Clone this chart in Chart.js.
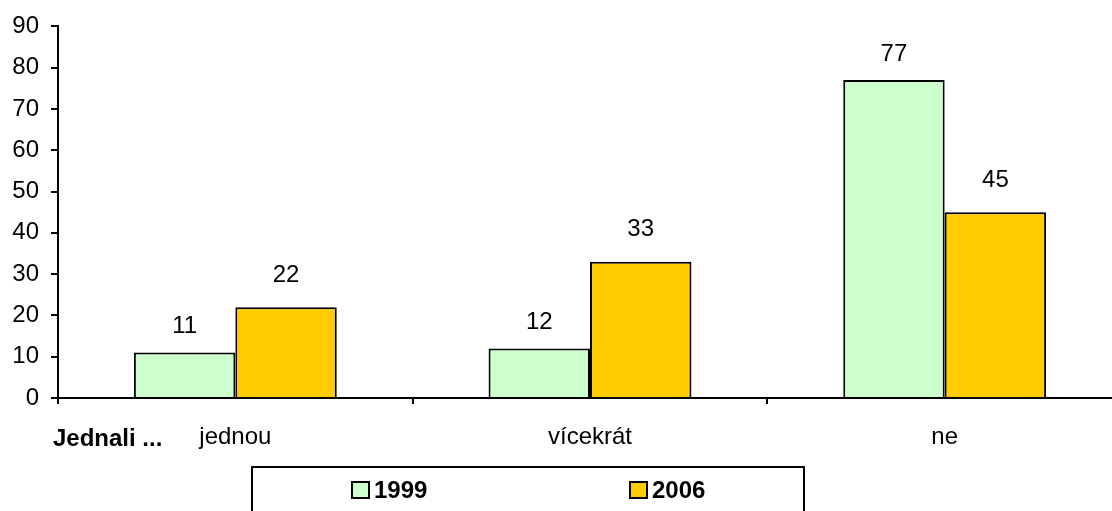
<!DOCTYPE html>
<html>
<head>
<meta charset="utf-8">
<script src="https://cdn.jsdelivr.net/npm/chart.js@4"></script>
<style>
  html, body { margin: 0; padding: 0; background: #fff; overflow: hidden; }
  #wrap { width: 1124px; height: 511px; }
</style>
</head>
<body>
<div id="wrap"><canvas id="chart" width="1124" height="511"></canvas></div>
<script>
const categories = ['jednou', 'vícekrát', 'ne'];
const seriesLabels = ['1999', '2006'];
const values1999 = [11, 12, 77];
const values2006 = [22, 33, 45];
const yTicks = [0, 10, 20, 30, 40, 50, 60, 70, 80, 90];
const axisTitle = 'Jednali ...';

const FONT = '"Liberation Sans", Arial, sans-serif';

// value labels above each bar
const valueLabels = {
  id: 'valueLabels',
  afterDatasetsDraw(chart) {
    const ctx = chart.ctx;
    const gap = [26, 32];
    ctx.save();
    ctx.font = '24px ' + FONT;
    ctx.fillStyle = '#000';
    ctx.textAlign = 'center';
    ctx.textBaseline = 'middle';
    chart.data.datasets.forEach((ds, i) => {
      chart.getDatasetMeta(i).data.forEach((bar, j) => {
        ctx.fillText(ds.data[j], bar.x, bar.y - gap[i]);
      });
    });
    ctx.restore();
  }
};

const extras = {
  id: 'extras',
  afterDraw(chart) {
    const ctx = chart.ctx;
    ctx.save();
    ctx.font = 'bold 24px ' + FONT;
    ctx.fillStyle = '#000';
    ctx.textAlign = 'left';
    ctx.textBaseline = 'middle';
    ctx.fillText(axisTitle, 53, 439);

    // legend box
    ctx.lineWidth = 2;
    ctx.strokeStyle = '#000';
    ctx.strokeRect(252, 467, 552, 60);
    const itemX = [352, 630];
    chart.data.datasets.forEach((ds, i) => {
      const x = itemX[i];
      ctx.fillStyle = ds.backgroundColor;
      ctx.fillRect(x, 482, 17, 16);
      ctx.lineWidth = 2;
      ctx.strokeRect(x, 482, 17, 16);
      ctx.fillStyle = '#000';
      ctx.font = 'bold 24px ' + FONT;
      ctx.fillText(ds.label, x + 22, 491);
    });
    ctx.restore();
  }
};

new Chart(document.getElementById('chart'), {
  type: 'bar',
  data: {
    labels: categories,
    datasets: [
      { label: seriesLabels[0], data: values1999, backgroundColor: '#CCFFCC', borderColor: '#000', borderWidth: 2 },
      { label: seriesLabels[1], data: values2006, backgroundColor: '#FFCC00', borderColor: '#000', borderWidth: 2 }
    ]
  },
  options: {
    responsive: false,
    animation: false,
    devicePixelRatio: 1,
    layout: { padding: { top: 24, right: 2, left: 0, bottom: 0 } },
    datasets: { bar: { categoryPercentage: 0.572, barPercentage: 1 } },
    plugins: {
      legend: { display: false },
      tooltip: { enabled: false }
    },
    scales: {
      x: {
        offset: true,
        grid: { offset: true, drawOnChartArea: false, drawTicks: true, tickLength: 6, color: '#000', lineWidth: 2 },
        border: { color: '#000', width: 2 },
        ticks: { color: '#000', font: { family: FONT, size: 24 }, padding: 19, maxRotation: 0 },
        afterFit(scale) { scale.height = 113; }
      },
      y: {
        min: 0,
        max: 90,
        afterBuildTicks(scale) { scale.ticks = yTicks.map(v => ({ value: v })); },
        grid: { drawOnChartArea: false, drawTicks: true, tickLength: 7, color: '#000', lineWidth: 2 },
        border: { color: '#000', width: 2 },
        ticks: { color: '#000', font: { family: FONT, size: 24 }, padding: 12 },
        afterFit(scale) { scale.width = 58; }
      }
    }
  },
  plugins: [valueLabels, extras]
});
</script>
</body>
</html>
